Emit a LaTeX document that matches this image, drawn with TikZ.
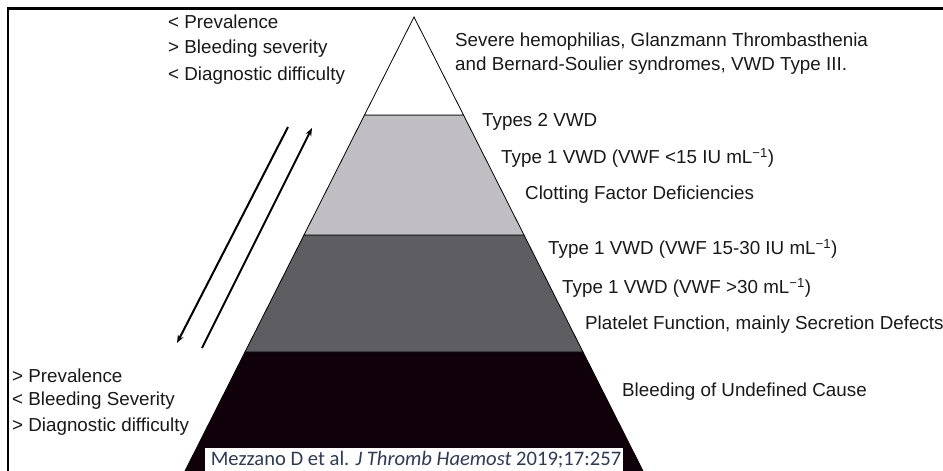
\documentclass[tikz,border=0pt]{standalone}
\usepackage{fontspec}
\setmainfont{Liberation Sans}
\newfontfamily\citefont{Carlito}
\usetikzlibrary{arrows.meta}
\definecolor{lgray}{HTML}{C0BEC2}
\definecolor{dgray}{HTML}{5E5D61}
\definecolor{nblack}{HTML}{10000A}
\definecolor{citeblue}{HTML}{2F3B55}
\tikzset{
  lbl/.style={anchor=west, inner sep=0pt, font=\fontsize{18.8}{21}\selectfont, text=black!90},
  layer/.style={draw=black, line width=0.8pt},
  trend/.style={line width=2pt, -{Stealth[length=8pt,width=6pt]}},
}
\begin{document}
\begin{tikzpicture}[x=1pt,y=-1pt]
\useasboundingbox (0,0) rectangle (943,471);
\fill[white] (0,0) rectangle (943,471);
% frame
\draw[line width=3pt] (7,8.5) -- (943,8.5);
\draw[line width=2pt] (8,8) -- (8,471);
% pyramid layers
\filldraw[layer, fill=nblack] (185,471) -- (245,352) -- (583,352) -- (643,471) -- cycle;
\filldraw[layer, fill=dgray] (245,352) -- (304,235) -- (524,235) -- (583,352) -- cycle;
\filldraw[layer, fill=lgray] (304,235) -- (364.5,115) -- (463.5,115) -- (524,235) -- cycle;
\filldraw[layer, fill=white] (364.5,115) -- (414,17) -- (463.5,115) -- cycle;
% citation
\node[fill=white, inner sep=0pt, minimum width=418pt, minimum height=23pt, anchor=south west] (cite) at (205,471) {};
\node[anchor=center, inner sep=0pt, text=citeblue, font=\citefont\fontsize{20.6}{22}\selectfont] (citetext) at (416,460) {Mezzano D et al. \textit{J Thromb Haemost} 2019;17:257};
% trend arrows
\coordinate (d1) at (288,127);
\coordinate (d2) at (177,343);
\coordinate (u1) at (202,348);
\coordinate (u2) at (312,128);
\draw[trend] (d1) -- (d2);
\draw[trend] (u1) -- (u2);
% left texts
\node[lbl] (t1) at (168,22) {< Prevalence};
\node[lbl] (t2) at (168,49) {> Bleeding severity};
\node[lbl] (t3) at (168,76) {< Diagnostic difficulty};
\node[lbl] (b1) at (12,376) {> Prevalence};
\node[lbl] (b2) at (12,401) {< Bleeding Severity};
\node[lbl] (b3) at (12,427) {> Diagnostic difficulty};
% right texts
\node[lbl] (r1) at (455,42) {Severe hemophilias, Glanzmann Thrombasthenia};
\node[lbl] (r2) at (455,66) {and Bernard-Soulier syndromes, VWD Type III.};
\node[lbl] (r3) at (482,122) {Types 2 VWD};
\node[lbl] (r4) at (501,158) {Type 1 VWD (VWF <15 IU mL\textsuperscript{−1})};
\node[lbl] (r5) at (525,195) {Clotting Factor Deficiencies};
\node[lbl] (r6) at (548,249) {Type 1 VWD (VWF 15-30 IU mL\textsuperscript{−1})};
\node[lbl] (r7) at (562,288) {Type 1 VWD (VWF >30 mL\textsuperscript{−1})};
\node[lbl] (r8) at (585,325) {Platelet Function, mainly Secretion Defects};
\node[lbl] (r9) at (622,392) {Bleeding of Undefined Cause};
\end{tikzpicture}
\end{document}
